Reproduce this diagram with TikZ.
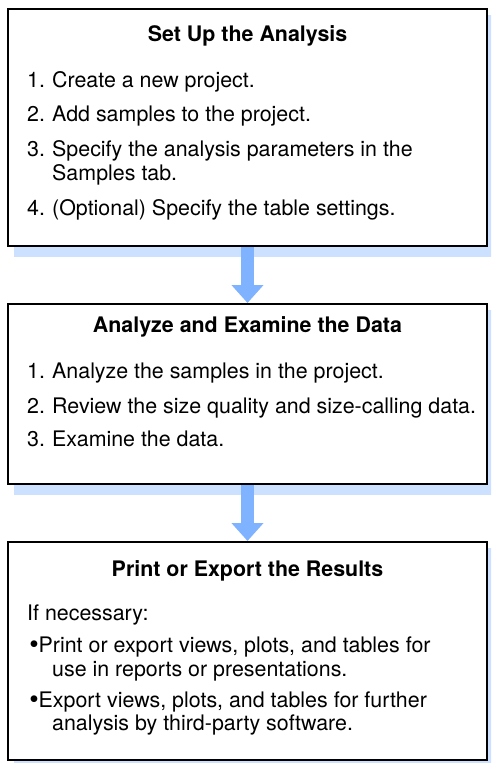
\documentclass[tikz,border=0pt]{standalone}
\usepackage{fontspec}
\setmainfont{TeX Gyre Heros}
\usetikzlibrary{arrows.meta,backgrounds}
\definecolor{shadowblue}{HTML}{CCE0FF}
\definecolor{arrowblue}{HTML}{80B3FF}
\begin{document}
\begin{tikzpicture}[x=1pt,y=-1pt,
  box/.style={draw=black, line width=2pt, fill=white, minimum width=479pt, inner sep=0pt},
  txt/.style={anchor=base west, inner sep=0pt, font=\fontsize{21.4}{24}\selectfont},
  bul/.style={anchor=base east, inner sep=0pt, font=\fontsize{27}{24}\selectfont},
  ttl/.style={anchor=base, inner sep=0pt, font=\fontsize{21.4}{24}\selectfont\bfseries},
  flow/.style={draw=arrowblue, line width=13pt, -{Triangle[length=18pt 0 0, width=31pt 0 0]}},
  shade/.style={fill=shadowblue}]
\useasboundingbox (0,0) rectangle (491,763);
% boxes
\node[box, minimum height=237pt] (b1) at (247.5,127.5) {};
\node[box, minimum height=180pt] (b2) at (247.5,394) {};
\node[box, minimum height=218pt] (b3) at (247.5,651) {};
% shadows and arrows
\begin{scope}[on background layer]
  \clip (0,0) rectangle (491,763);
  \fill[shade] ([shift={(7,7)}]b1.north west) rectangle ([shift={(7,10)}]b1.south east);
  \fill[shade] ([shift={(7,7)}]b2.north west) rectangle ([shift={(7,10)}]b2.south east);
  \fill[shade] ([shift={(7,7)}]b3.north west) rectangle ([shift={(7,10)}]b3.south east);
  \draw[flow] (b1.south) -- (b2.north);
  \draw[flow] (b2.south) -- (b3.north);
\end{scope}
% box 1 text
\node[ttl] (t1) at (247.5,41) {Set Up the Analysis};
\node[txt] (n11) at (27,87) {1.};
\node[txt] (s11) at (52,87) {Create a new project.};
\node[txt] (n12) at (27,121) {2.};
\node[txt] (s12) at (52,121) {Add samples to the project.};
\node[txt] (n13) at (27,156) {3.};
\node[txt] (s13) at (52,156) {Specify the analysis parameters in the};
\node[txt] (s13b) at (52,180) {Samples tab.};
\node[txt] (n14) at (27,215) {4.};
\node[txt] (s14) at (52,215) {(Optional) Specify the table settings.};
% box 2 text
\node[ttl] (t2) at (247.5,332) {Analyze and Examine the Data};
\node[txt] (n21) at (27,378) {1.};
\node[txt] (s21) at (52,378) {Analyze the samples in the project.};
\node[txt] (n22) at (27,413) {2.};
\node[txt] (s22) at (52,413) {Review the size quality and size-calling data.};
\node[txt] (n23) at (27,446) {3.};
\node[txt] (s23) at (52,446) {Examine the data.};
% box 3 text
\node[ttl] (t3) at (247.5,576) {Print or Export the Results};
\node[txt] (s30) at (27,620) {If necessary:};
\node[bul] (n31) at (39,653) {•};
\node[txt] (s31) at (38.5,652) {Print or export views, plots, and tables for};
\node[txt] (s31b) at (52,676) {use in reports or presentations.};
\node[bul] (n32) at (39,708) {•};
\node[txt] (s32) at (38.5,707) {Export views, plots, and tables for further};
\node[txt] (s32b) at (52,730) {analysis by third-party software.};
\end{tikzpicture}
\end{document}
